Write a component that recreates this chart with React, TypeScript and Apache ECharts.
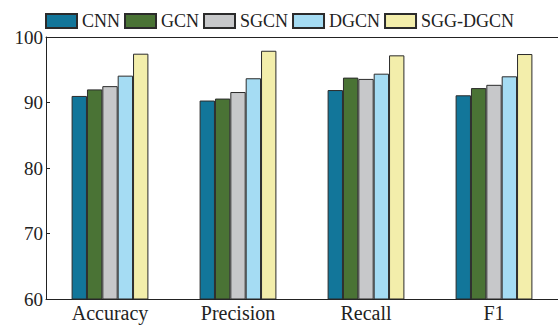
import React, { useEffect, useRef } from "react";
import * as echarts from "echarts";

const categories = ["Accuracy", "Precision", "Recall", "F1"];
const seriesNames = ["CNN", "GCN", "SGCN", "DGCN", "SGG-DGCN"];
const cnn = [91.0, 90.3, 91.9, 91.1];
const gcn = [92.0, 90.6, 93.8, 92.2];
const sgcn = [92.5, 91.6, 93.6, 92.7];
const dgcn = [94.1, 93.7, 94.4, 94.0];
const sggDgcn = [97.45, 97.9, 97.2, 97.4];
const colors = ["#12769a", "#4a7335", "#c7c8ca", "#a5dcf3", "#f3eeab"];
const yTicks = [60, 70, 80, 90, 100];

const FONT = "Liberation Serif";

export default function App() {
  const ref = useRef<HTMLDivElement>(null);
  useEffect(() => {
    if (!ref.current) return;
    const chart = echarts.init(ref.current, undefined, { renderer: "svg" });
    const data = [cnn, gcn, sgcn, dgcn, sggDgcn];
    chart.setOption({
      animation: false,
      backgroundColor: "#ffffff",
      legend: {
        data: seriesNames,
        left: 40,
        top: 7,
        padding: 5,
        itemWidth: 31,
        itemHeight: 14,
        itemGap: 4,
        icon: "rect",
        textStyle: {
          fontFamily: FONT,
          fontSize: 18,
          color: "#222",
        },
      },
      grid: { left: 46, right: -3, top: 37, bottom: 26, containLabel: false },
      xAxis: [
        {
          type: "category",
          data: categories,
          axisLine: { show: true, lineStyle: { color: "#222", width: 1 } },
          axisTick: { show: false },
          axisLabel: {
            fontFamily: FONT,
            fontSize: 20,
            color: "#222",
            margin: 4,
          },
        },
        {
          type: "category",
          data: categories,
          position: "top",
          axisLine: { show: true, lineStyle: { color: "#222", width: 1 } },
          axisTick: { show: false },
          axisLabel: { show: false },
        },
      ],
      yAxis: {
        type: "value",
        min: yTicks[0],
        max: yTicks[yTicks.length - 1],
        interval: 10,
        axisLine: { show: true, lineStyle: { color: "#222", width: 1 } },
        axisTick: { show: true, inside: true, length: 4, lineStyle: { color: "#222" } },
        splitLine: { show: false },
        axisLabel: {
          fontFamily: FONT,
          fontSize: 19,
          color: "#222",
          margin: 3,
        },
      },
      series: seriesNames.map((name, i) => ({
        name,
        type: "bar",
        data: data[i],
        barGap: "0%",
        barCategoryGap: "40%",
        itemStyle: {
          color: colors[i],
          borderColor: "#2b2b2b",
          borderWidth: 1,
        },
      })),
    });
    return () => chart.dispose();
  }, []);
  return (
    <div
      ref={ref}
      style={{ position: "fixed", left: 0, top: 0, width: 558, height: 325 }}
    />
  );
}
